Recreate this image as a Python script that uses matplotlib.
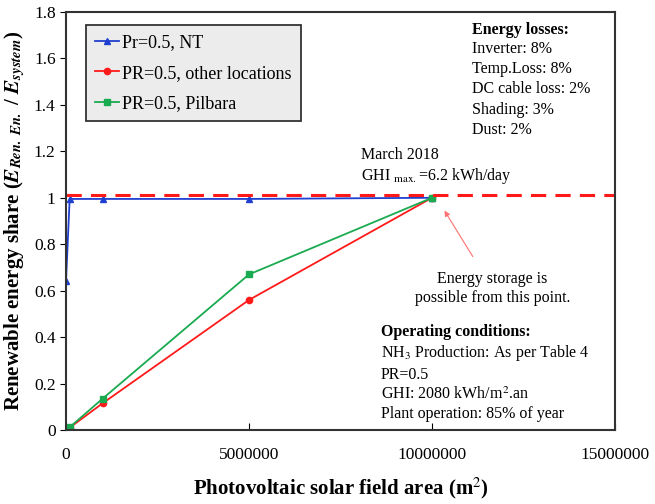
import numpy as np
import matplotlib
matplotlib.use("Agg")
import matplotlib.pyplot as plt

# data
area_nt = [0, 100000, 1000000, 5000000, 10000000]
share_nt = [0.64, 0.995, 0.995, 0.995, 1.0]

area_other = [0, 100000, 1000000, 5000000, 10000000]
share_other = [0.0, 0.01, 0.115, 0.56, 1.0]

area_pilbara = [0, 100000, 1000000, 5000000, 10000000]
share_pilbara = [0.005, 0.012, 0.135, 0.67, 1.0]

limit_level = 1.01

plt.rcParams['font.family'] = ['Liberation Serif', 'DejaVu Serif']
plt.rcParams['mathtext.fontset'] = 'stix'

fig = plt.figure(figsize=(6.55, 5.04), dpi=100)
ax = fig.add_axes([66/655, 74/504, 549/655, 418/504])

ax.plot(area_nt, share_nt, color='#1f3fd0', marker='^', markersize=4,
        linewidth=1.3, label='Pr=0.5, NT')
ax.plot(area_other, share_other, color='#ff1a1a', marker='o', markersize=4.5,
        linewidth=1.3, label='PR=0.5, other locations')
ax.plot(area_pilbara, share_pilbara, color='#1aaa50', marker='s', markersize=4,
        linewidth=1.3, label='PR=0.5, Pilbara')
ax.axhline(limit_level, color='#ff1a1a', linestyle=(0, (5, 3)), linewidth=2.2)

ax.set_xlim(0, 15000000)
ax.set_ylim(0, 1.8)
ax.set_xticks([0, 5000000, 10000000, 15000000])
ax.set_xticklabels(['0', '5000000', '10000000', '15000000'])
ax.set_yticks(np.arange(0, 1.81, 0.2))
ax.set_yticklabels(['0', '0.2', '0.4', '0.6', '0.8', '1', '1.2', '1.4', '1.6', '1.8'])
ax.tick_params(axis='x', direction='in', labelsize=12.5, pad=12, length=5)
ax.tick_params(axis='y', direction='out', labelsize=12.5, length=4)
for sp in ax.spines.values():
    sp.set_linewidth(1.5)
    sp.set_color('#333333')

ax.set_xlabel('Photovoltaic solar field area (m$^{2}$)', fontsize=15,
              fontweight='bold', labelpad=9)
ax.set_ylabel(r'Renewable energy share ($\mathbfit{E}_{\mathbfit{Ren.\ En.}}$ / $\mathbfit{E}_{\mathbfit{system}}$)',
              fontsize=15, fontweight='bold', labelpad=5)

leg = ax.legend(loc='upper left', bbox_to_anchor=(0.02, 0.99), fontsize=13,
                frameon=True, fancybox=False, handlelength=1.3,
                handletextpad=0.2, borderpad=0.5, labelspacing=0.75)
leg.get_frame().set_facecolor('#ececec')
leg.get_frame().set_edgecolor('#333333')
leg.get_frame().set_linewidth(1.3)
leg.get_frame().set_alpha(1)

# energy losses
ax.text(11100000, 1.755, 'Energy losses:', fontsize=11.5, fontweight='bold', va='top')
ax.text(11100000, 1.675, 'Inverter: 8%\nTemp.Loss: 8%\nDC cable loss: 2%\nShading: 3%\nDust: 2%',
        fontsize=11.5, va='top', linespacing=1.35)

ax.text(8050000, 1.185, 'March 2018', fontsize=11.5, va='center')
ax.text(8050000, 1.095, r'GHI $_{\mathrm{max.}}$=6.2 kWh/day', fontsize=11.5, va='center')

ax.annotate('Energy storage is\npossible from this point.', xy=(10300000, 0.955),
            xytext=(11650000, 0.61), fontsize=11.5, ha='center', va='center',
            arrowprops=dict(arrowstyle='-|>', color='#ff7070', lw=0.8,
                            shrinkA=10, mutation_scale=8))

ax.text(8600000, 0.455, 'Operating conditions:', fontsize=11.5, fontweight='bold', va='top')
ax.text(8600000, 0.375, 'NH$_3$ Production: As per Table 4\nPR=0.5\nGHI: 2080 kWh/m$^2$.an\nPlant operation: 85% of year',
        fontsize=11.5, va='top', linespacing=1.3)

fig.savefig('out.png', dpi=100)
